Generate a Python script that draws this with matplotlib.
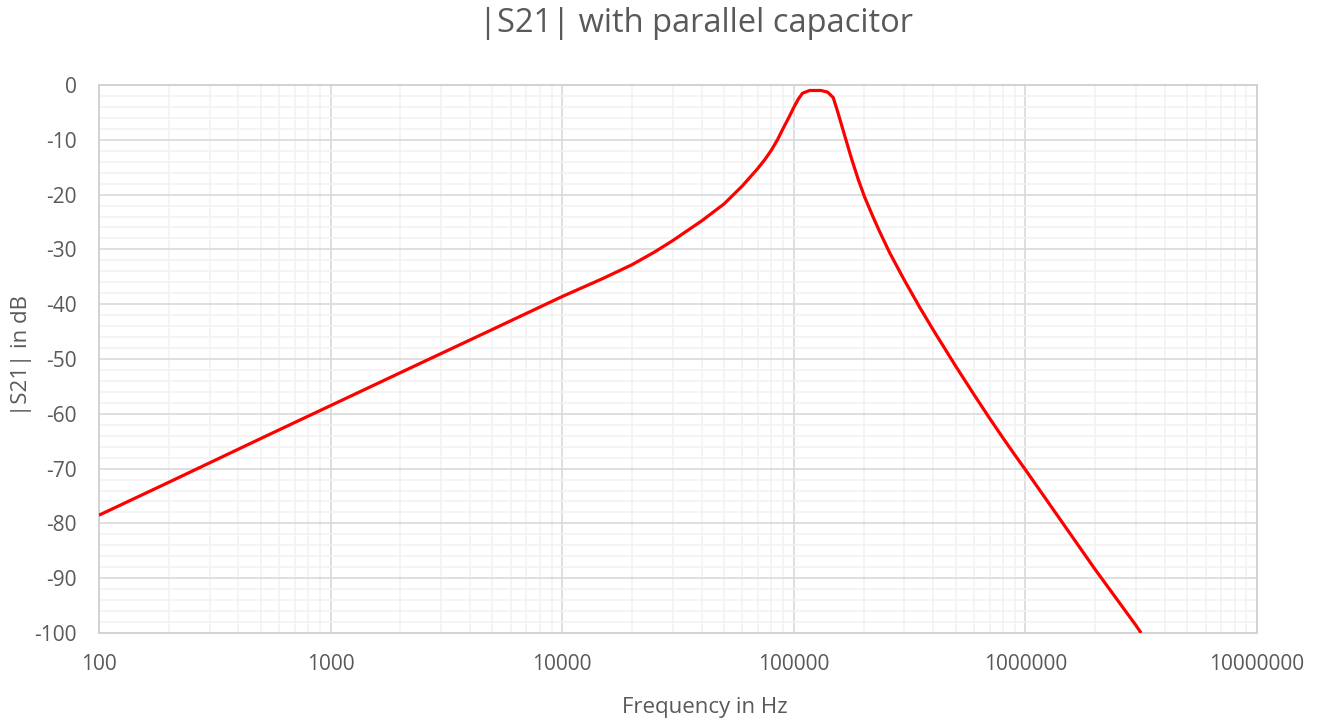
import numpy as np
import matplotlib
matplotlib.use('Agg')
import matplotlib.pyplot as plt
from matplotlib.ticker import FixedLocator, NullFormatter, FuncFormatter

# |S21| (frequency in Hz, magnitude in dB)
freq_hz = [100, 200, 500, 1000, 2000, 5000, 10000, 15000, 20000, 25000, 30000,
           40000, 50000, 60000, 70000, 75000, 80000, 85000, 90000, 95000,
           100000, 104500, 109000, 117000, 131000, 140000, 148000, 155000,
           166000, 178000, 190000, 202000, 220000, 235000, 260000, 300000,
           350000, 400000, 500000, 600000, 700000, 800000, 900000, 1000000,
           2000000, 3000000, 3160000]
s21_db = [-78.5, -72.5, -64.5, -58.5, -52.5, -44.6, -38.6, -35.3, -32.8, -30.5, -28.4,
          -24.8, -21.7, -18.4, -15.2, -13.6, -11.9, -10.0, -7.9, -6.0,
          -4.1, -2.6, -1.5, -1.0, -1.0, -1.3, -2.3, -5.0,
          -9.3, -13.6, -17.3, -20.4, -24.1, -26.8, -30.7, -35.6,
          -40.6, -44.7, -51.3, -56.5, -60.8, -64.4, -67.5, -70.2,
          -88.4, -98.6, -100.0]

x_ticks = [100, 1000, 10000, 100000, 1000000, 10000000]
y_ticks = list(range(-100, 1, 10))

TXT = '#595959'
plt.rcParams['font.family'] = ['Open Sans', 'DejaVu Sans']
plt.rcParams['axes.unicode_minus'] = False

W, H = 1323, 722
fig = plt.figure(figsize=(W / 100, H / 100), dpi=100)
ax = fig.add_axes([99/W, 1 - 633/H, (1257 - 99)/W, (633 - 85)/H])

ax.plot(freq_hz, s21_db, color='#ff0000', lw=2.3, solid_joinstyle='round',
        solid_capstyle='butt', zorder=3)

ax.set_xscale('log')
ax.set_xlim(100, 1e7)
ax.set_ylim(-100, 0)
ax.xaxis.set_major_locator(FixedLocator(x_ticks))
ax.xaxis.set_major_formatter(FuncFormatter(lambda v, p: '%d' % round(v)))
ax.xaxis.set_minor_locator(FixedLocator([m * 10**d for d in range(2, 7) for m in range(2, 10)]))
ax.xaxis.set_minor_formatter(NullFormatter())
ax.yaxis.set_major_locator(FixedLocator(y_ticks))
ax.yaxis.set_minor_locator(FixedLocator([v for v in range(-100, 1, 2) if v % 10]))

ax.grid(True, which='major', color='#d9d9d9', lw=1.2)
ax.grid(True, which='minor', color='#f2f2f2', lw=1.2)
ax.set_axisbelow(True)
for s in ax.spines.values():
    s.set_color('#d0d0d0'); s.set_linewidth(1.3)

ax.tick_params(which='both', length=0, labelsize=15, labelcolor=TXT)
ax.tick_params(axis='y', pad=16)
ax.tick_params(axis='x', pad=15)

fig.text(696/W, 1 - 23/H, '|S21| with parallel capacitor', fontsize=23.5,
         color=TXT, ha='center', va='center')
fig.text(705/W, 1 - 708/H, 'Frequency in Hz', fontsize=16,
         color=TXT, ha='center', va='center')
fig.text(22/W, 1 - 355/H, '|S21| in dB', fontsize=16, rotation=90,
         color=TXT, ha='center', va='center')

fig.savefig('out.png', dpi=100)
